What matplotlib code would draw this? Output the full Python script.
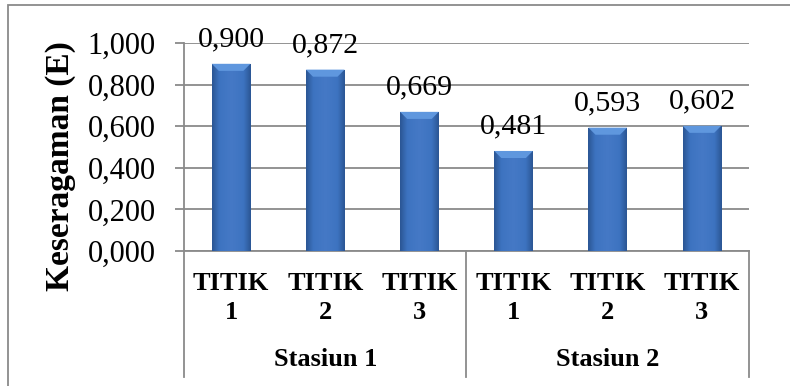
import numpy as np
import matplotlib.pyplot as plt
from matplotlib import rc
from matplotlib.colors import LinearSegmentedColormap
from matplotlib.patches import Polygon, Rectangle
import matplotlib.transforms as mtransforms

rc('font', family='Liberation Serif')

# Data
stations = ['Stasiun 1', 'Stasiun 2']
points = ['TITIK\n1', 'TITIK\n2', 'TITIK\n3', 'TITIK\n1', 'TITIK\n2', 'TITIK\n3']
evenness = [0.900, 0.872, 0.669, 0.481, 0.593, 0.602]
yticks = [0.0, 0.2, 0.4, 0.6, 0.8, 1.0]

grid_c = '#8a8a8a'
W, H = 790, 386
fig = plt.figure(figsize=(W/100, H/100), dpi=100)
ax = fig.add_axes([184/W, 1-251/H, 565/W, 208/H])

x = np.arange(len(evenness))
bw = 0.41
bars = ax.bar(x, evenness, width=bw, color='#3f75c2', zorder=3)

# Bevelled blue fill for each column
cmap = LinearSegmentedColormap.from_list(
    'col', [(0, '#2b5694'), (0.18, '#3d73c0'), (0.5, '#4579c6'),
            (0.82, '#3d73c0'), (1, '#2b5694')])
grad = np.linspace(0, 1, 64).reshape(1, -1)
bev_h, bev_w = 0.034, 0.075
for b, v in zip(bars, evenness):
    x0 = b.get_x()
    im = ax.imshow(grad, cmap=cmap, aspect='auto', extent=[x0, x0+bw, 0, v],
                   zorder=4, interpolation='bicubic')
    im.set_clip_path(b)
    ax.add_patch(Polygon([[x0, v], [x0+bw, v], [x0+bw-bev_w, v-bev_h],
                          [x0+bev_w, v-bev_h]], closed=True,
                         facecolor='#5f97de', edgecolor='none', zorder=5))
    ax.annotate(f'{v:.3f}'.replace('.', ','), (x0+bw/2, v),
                xytext=(0, 8), textcoords='offset points',
                ha='center', va='bottom', fontsize=21.5, zorder=6)

ax.set_xlim(-0.5, len(evenness)-0.5)
ax.set_ylim(0, 1)
ax.set_yticks(yticks)
ax.set_yticklabels([f'{t:.3f}'.replace('.', ',') for t in yticks])
ax.set_xticks([])
ax.yaxis.grid(True, color=grid_c, lw=1.3, zorder=0)
ax.set_axisbelow(True)
ax.tick_params(axis='y', direction='out', length=6.5, width=1.3,
               color=grid_c, pad=14, labelsize=22)
for s in ['top', 'right']:
    ax.spines[s].set_visible(False)
for s in ['left', 'bottom']:
    ax.spines[s].set_color(grid_c)
    ax.spines[s].set_linewidth(1.3)

# Two-level category axis below the plot
trans = mtransforms.blended_transform_factory(ax.transData, ax.transAxes)
y_end = -(377-251)/208
for xv in [-0.5, 2.5, 5.5]:
    ax.plot([xv, xv], [0, y_end], transform=trans, color=grid_c, lw=1.3,
            clip_on=False)
for xi, lab in zip(x, points):
    ax.text(xi, -(298-251)/208, lab, transform=trans, ha='center', va='center',
            fontsize=19, fontweight='bold', linespacing=1.35)
for gi, st in enumerate(stations):
    ax.text(1 + 3*gi, -(360-251)/208, st, transform=trans, ha='center',
            va='center', fontsize=19, fontweight='bold')

fig.text(60/W, 1-166/H, 'Keseragaman (E)', rotation=90, ha='center',
         va='center', fontsize=24, fontweight='bold')

# Chart frame
fig.patches.append(Rectangle((8/W, -0.1), 1.2, 1-5/H+0.1, transform=fig.transFigure,
                             fill=False, edgecolor=grid_c, lw=1.3))

fig.savefig('out.png', dpi=100)
